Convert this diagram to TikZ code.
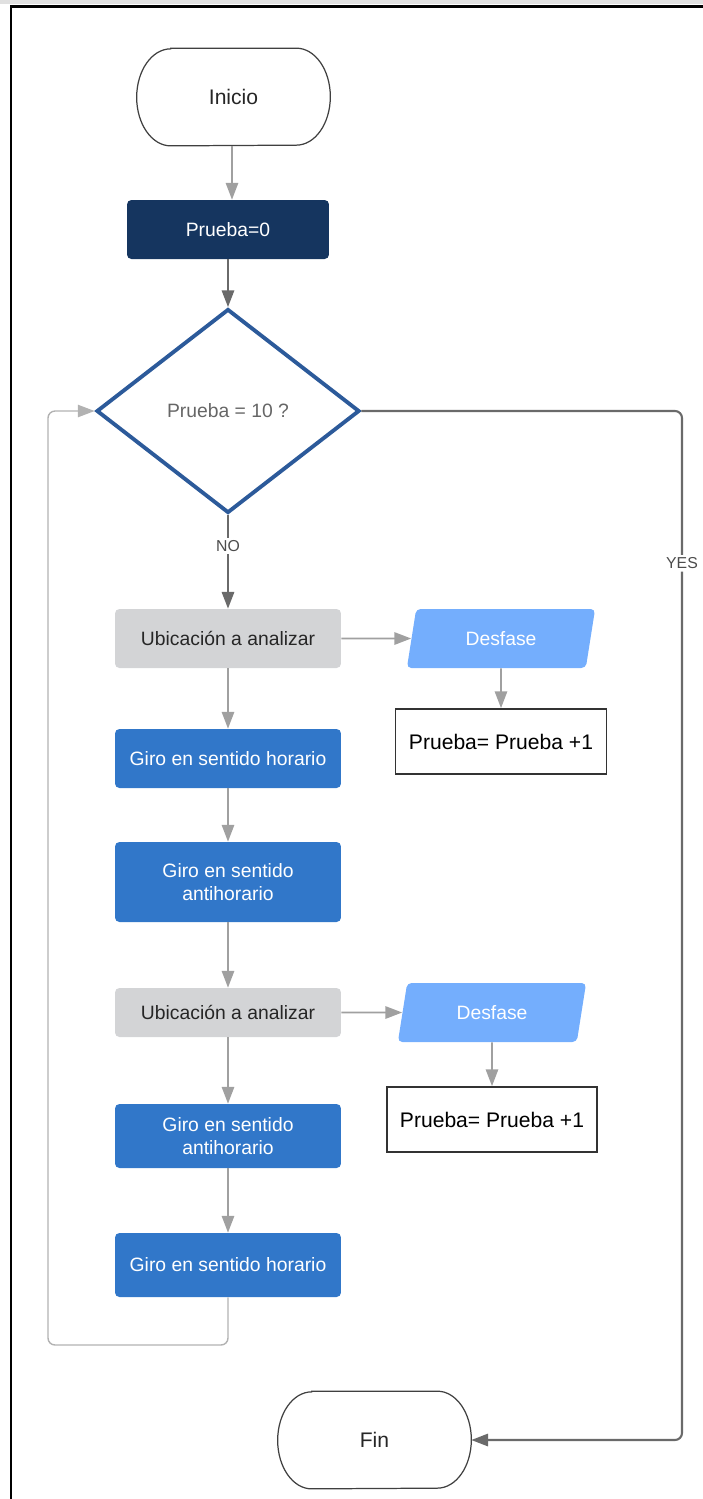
\documentclass[tikz,border=0pt]{standalone}
\usepackage{fontspec}
\setmainfont{Liberation Sans}
\usepackage{xcolor}
\definecolor{navyfill}{HTML}{15355F}
\definecolor{decblue}{HTML}{2C5A9A}
\definecolor{stepblue}{HTML}{3177C9}
\definecolor{ioblue}{HTML}{74AEFD}
\definecolor{locgray}{HTML}{D3D4D6}
\definecolor{arrlight}{HTML}{A0A0A0}
\definecolor{arrdark}{HTML}{6A6A6A}
\usetikzlibrary{positioning,arrows.meta,shapes.geometric}
\tikzset{
  terminal/.style={rectangle, draw=none, minimum width=3.86cm, minimum height=1.94cm,
                   inner sep=0pt, text=black!85, font=\fontsize{12}{14}\selectfont},
  proc/.style    ={rectangle, rounded corners=2.5pt, draw=none, minimum width=4.52cm,
                   minimum height=1.18cm, inner sep=2pt, align=center,
                   font=\fontsize{11}{13}\selectfont},
  stepbox/.style ={proc, fill=stepblue, text=white},
  locbox/.style  ={proc, fill=locgray, text=black!85},
  iobox/.style   ={trapezium, trapezium left angle=77, trapezium right angle=103,
                   trapezium stretches=true, rounded corners=2.5pt, fill=ioblue,
                   text=white, minimum width=3.78cm, minimum height=1.18cm, inner sep=1pt,
                   font=\fontsize{11}{13}\selectfont},
  incbox/.style  ={rectangle, draw=black!80, line width=1pt, fill=white, text=black,
                   minimum width=4.22cm, minimum height=1.3cm,
                   font=\fontsize{12}{14}\selectfont},
  decbox/.style  ={diamond, draw=decblue, line width=2.2pt, minimum width=5.26cm,
                   minimum height=4.08cm, inner sep=0pt, text=black!60,
                   font=\fontsize{11}{13}\selectfont},
  arr/.style     ={-{Triangle[length=9.5pt,width=7pt]}, draw=arrlight, line width=1pt},
  darr/.style    ={-{Triangle[length=9.5pt,width=7pt]}, draw=arrdark, line width=1.2pt},
  loopline/.style={-{Triangle[length=9.5pt,width=7pt]}, draw=black!30, line width=0.8pt,
                   rounded corners=4pt},
  lbl/.style     ={font=\fontsize{9}{11}\selectfont, fill=white, text=black!70, inner sep=1.5pt},
}
\newcommand{\termline}[1]{%
  \draw[black!75, line width=0.7pt]
    ([xshift=0.68cm]#1.north west) -- ([xshift=-0.68cm]#1.north east)
    arc[start angle=90, end angle=-90, x radius=0.68cm, y radius=0.97cm]
    -- ([xshift=0.68cm]#1.south west)
    arc[start angle=270, end angle=90, x radius=0.68cm, y radius=0.97cm] -- cycle;}

\begin{document}
\begin{tikzpicture}[x=0.02cm, y=-0.02cm]
  \useasboundingbox (0,0) rectangle (703,1499);
  % page frame
  \fill[black!12] (0,0) rectangle (703,4);
  \draw[line width=1.7pt] (11,1499) -- (11,6) -- (703,6);

  \node[terminal] (ini) at (233.5,97) {Inicio};
  \node[proc, fill=navyfill, text=white, minimum width=4.04cm] (p0) at (228,229.5) {Prueba=0};
  \node[decbox] (dia) at (228,411) {Prueba = 10 ?};
  \node[locbox] (ub1) at (228,638.5) {Ubicación a analizar};
  \node[iobox] (de1) at (501,638.5) {Desfase};
  \node[incbox] (in1) at (501,741.5) {Prueba= Prueba +1};
  \node[stepbox] (gh1) at (228,758.5) {Giro en sentido horario};
  \node[stepbox, minimum height=1.6cm] (ga1) at (228,882) {Giro en sentido\\antihorario};
  \node[locbox, minimum height=0.98cm] (ub2) at (228,1012.5) {Ubicación a analizar};
  \node[iobox] (de2) at (492,1012.5) {Desfase};
  \node[incbox, minimum width=4.2cm] (in2) at (492,1119.5) {Prueba= Prueba +1};
  \node[stepbox, minimum height=1.28cm] (ga2) at (228,1136) {Giro en sentido\\antihorario};
  \node[stepbox, minimum height=1.28cm] (gh2) at (228,1265) {Giro en sentido horario};
  \node[terminal] (fin) at (374.5,1440) {Fin};
  \termline{ini}
  \termline{fin}

  \coordinate (lp) at (48,1345);
  \coordinate (yc) at (682,1440);

  \draw[arr]  ([xshift=-0.03cm]ini.south) -- ([xshift=-0.03cm]ini.south |- p0.north);
  \draw[darr] (p0) -- (dia);
  \draw[darr] (dia.south) -- node[lbl, pos=0.33] {NO} (ub1.north);
  \draw[arr]  (ub1) -- (de1);
  \draw[arr]  (de1) -- (in1);
  \draw[arr]  (ub1) -- (gh1);
  \draw[arr]  (gh1) -- (ga1);
  \draw[arr]  (ga1) -- (ub2);
  \draw[arr]  (ub2) -- (de2);
  \draw[arr]  (de2) -- (in2);
  \draw[arr]  (ub2) -- (ga2);
  \draw[arr]  (ga2) -- (gh2);
  \draw[loopline] (gh2.south) |- (lp) |- (dia.west);
  \draw[darr, rounded corners=4pt] (dia.east) -| node[lbl, pos=0.574] {YES} (yc) -- (fin.east);
\end{tikzpicture}
\end{document}
